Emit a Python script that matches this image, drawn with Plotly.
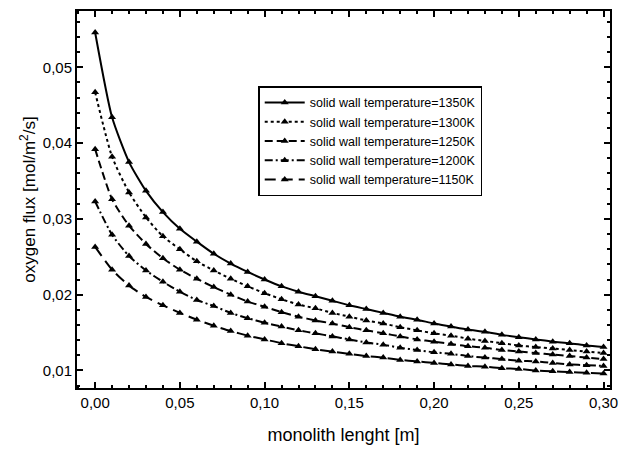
import plotly.graph_objects as go

x_len = [0.00, 0.01, 0.02, 0.03, 0.04, 0.05, 0.06, 0.07, 0.08, 0.09, 0.10,
         0.11, 0.12, 0.13, 0.14, 0.15, 0.16, 0.17, 0.18, 0.19, 0.20,
         0.21, 0.22, 0.23, 0.24, 0.25, 0.26, 0.27, 0.28, 0.29, 0.30]

flux_1350 = [0.0546, 0.0434, 0.0375, 0.0337, 0.0309, 0.0287, 0.0270, 0.0254, 0.0241, 0.0230, 0.0220,
             0.0211, 0.0204, 0.0198, 0.0192, 0.0186, 0.0181, 0.0176, 0.0171, 0.0167, 0.0162,
             0.0158, 0.0154, 0.0151, 0.0147, 0.0144, 0.0141, 0.0138, 0.0136, 0.0133, 0.0131]
flux_1300 = [0.0467, 0.0382, 0.0335, 0.0302, 0.0277, 0.0260, 0.0244, 0.0232, 0.0221, 0.0211, 0.0202,
             0.0194, 0.0187, 0.0182, 0.0176, 0.0171, 0.0166, 0.0162, 0.0157, 0.0153, 0.0149,
             0.0146, 0.0142, 0.0139, 0.0136, 0.0133, 0.0131, 0.0129, 0.0127, 0.0125, 0.0123]
flux_1250 = [0.0392, 0.0326, 0.0291, 0.0267, 0.0248, 0.0233, 0.0221, 0.0210, 0.0200, 0.0191, 0.0184,
             0.0177, 0.0171, 0.0166, 0.0162, 0.0157, 0.0153, 0.0149, 0.0145, 0.0141, 0.0138,
             0.0135, 0.0132, 0.0130, 0.0127, 0.0125, 0.0123, 0.0121, 0.0119, 0.0117, 0.0115]
flux_1200 = [0.0323, 0.0279, 0.0251, 0.0232, 0.0217, 0.0204, 0.0193, 0.0185, 0.0176, 0.0169, 0.0163,
             0.0158, 0.0153, 0.0149, 0.0145, 0.0141, 0.0137, 0.0134, 0.0130, 0.0127, 0.0124,
             0.0122, 0.0119, 0.0117, 0.0115, 0.0113, 0.0112, 0.0110, 0.0108, 0.0107, 0.0106]
flux_1150 = [0.0263, 0.0233, 0.0212, 0.0197, 0.0186, 0.0176, 0.0167, 0.0159, 0.0152, 0.0146, 0.0141,
             0.0136, 0.0132, 0.0128, 0.0125, 0.0122, 0.0119, 0.0117, 0.0114, 0.0112, 0.0110,
             0.0108, 0.0106, 0.0105, 0.0103, 0.0102, 0.0100, 0.0099, 0.0098, 0.0097, 0.0096]

series_names = ["solid wall temperature=1350K", "solid wall temperature=1300K",
                "solid wall temperature=1250K", "solid wall temperature=1200K",
                "solid wall temperature=1150K"]
series_values = [flux_1350, flux_1300, flux_1250, flux_1200, flux_1150]
dash_styles = ["solid", "dot", "8px,4px", "8px,3px,2px,3px", "11px,6px"]

FONT = "Liberation Sans, Arial, sans-serif"

fig = go.Figure()
for name, vals, dash in zip(series_names, series_values, dash_styles):
    fig.add_trace(go.Scatter(
        x=x_len, y=vals, name=name, mode="lines+markers",
        line=dict(color="black", width=2, dash=dash, shape="spline", smoothing=0.6),
        marker=dict(symbol="triangle-up", size=7, color="black"),
    ))

axis_common = dict(
    showgrid=False, zeroline=False, showline=True, linecolor="black", linewidth=2,
    mirror="ticks", ticks="inside", ticklen=6, tickwidth=1.5, tickcolor="black",
    tickfont=dict(family=FONT, size=15, color="black"),
)

fig.update_xaxes(
    **axis_common, range=[-0.0107, 0.3038], tick0=0, dtick=0.05, tickformat=".2f",
    minor=dict(dtick=0.01, ticks="inside", ticklen=3, tickwidth=1.5, tickcolor="black"),
    title=dict(text="monolith lenght [m]", font=dict(family=FONT, size=18, color="black"), standoff=18),
)
fig.update_yaxes(
    **axis_common, range=[0.00769, 0.05743], tick0=0.01, dtick=0.01, tickformat=".2f",
    minor=dict(dtick=0.002, ticks="inside", ticklen=3, tickwidth=1.5, tickcolor="black"),
    title=dict(text="oxygen flux [mol/m<sup>2</sup>/s]", font=dict(family=FONT, size=17, color="black"), standoff=3),
)

fig.update_layout(
    width=627, height=451,
    margin=dict(l=77, r=9, t=10, b=62),
    paper_bgcolor="white", plot_bgcolor="white",
    separators=",.",
    showlegend=True,
    legend=dict(
        x=0.340, y=0.80, xanchor="left", yanchor="top",
        bgcolor="white", bordercolor="black", borderwidth=1.5,
        font=dict(family=FONT, size=12.5, color="black"),
        itemwidth=40, tracegroupgap=0,
    ),
)

fig.write_html("out.html")
